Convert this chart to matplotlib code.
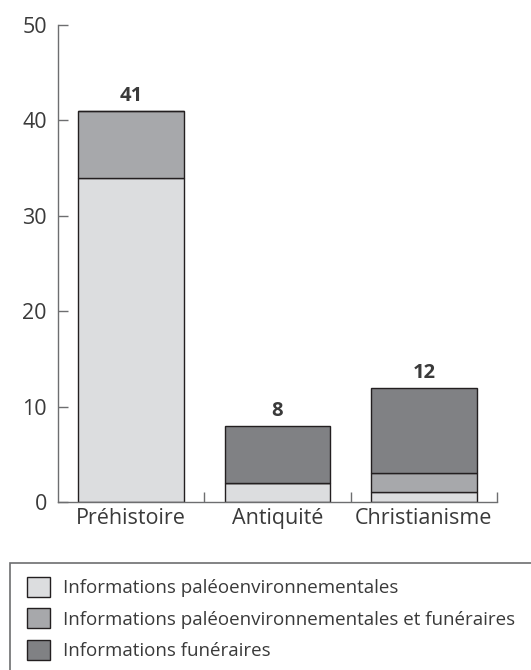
import matplotlib
matplotlib.use('Agg')
import matplotlib.pyplot as plt
from matplotlib.patches import Rectangle, Patch
import numpy as np

plt.rcParams['font.family'] = ['Open Sans', 'DejaVu Sans']

# data
categories = ['Préhistoire', 'Antiquité', 'Christianisme']
paleo = [34, 2, 1]
paleo_fun = [7, 0, 2]
funeraire = [0, 6, 9]
series_labels = ['Informations paléoenvironnementales',
                 'Informations paléoenvironnementales et funéraires',
                 'Informations funéraires']
colors = ['#dcdddf', '#a7a8ab', '#808184']
edge = '#231f20'
txt = '#3a3a3a'
spine_c = '#6d6e70'

fig = plt.figure(figsize=(5.31, 6.7), dpi=100)
ax = fig.add_axes([58 / 531, 168 / 670, (497 - 58) / 531, (645 - 168) / 670])

x = np.arange(len(categories))
w = 0.72
bottom = np.zeros(len(categories))
for vals, c, lab in zip([paleo, paleo_fun, funeraire], colors, series_labels):
    vals = np.array(vals)
    ax.bar(x, vals, w, bottom=bottom, color=c, edgecolor=edge, linewidth=1.0, label=lab)
    bottom += vals

for xi, tot in zip(x, bottom):
    ax.text(xi, tot + 0.5, f'{int(tot)}', ha='center', va='bottom',
            fontsize=14.5, fontweight='bold', color=txt)

ax.set_xlim(-0.5, 2.5)
ax.set_ylim(0, 50)
ax.set_yticks([0, 10, 20, 30, 40, 50])
ax.tick_params(axis='y', direction='in', length=7.5, width=1, color=spine_c,
               labelsize=15.5, labelcolor=txt, pad=8)

# category labels, boundary ticks
ax.set_xticks(x)
ax.set_xticklabels(categories)
ax.tick_params(axis='x', length=0, labelsize=15.5, labelcolor=txt, pad=4)
ax.set_xticks([0.5, 1.5, 2.5], minor=True)
ax.tick_params(axis='x', which='minor', direction='in', length=7.5, width=1, color=spine_c)

for s in ['top', 'right']:
    ax.spines[s].set_visible(False)
for s in ['left', 'bottom']:
    ax.spines[s].set_color(spine_c)
    ax.spines[s].set_linewidth(1)

# legend box (runs past the figure edge)
fig.patches.append(Rectangle((10 / 531, -0.05), 1.0, (670 - 563) / 670 + 0.05,
                             transform=fig.transFigure, fill=False,
                             edgecolor=spine_c, linewidth=1.2))
handles = [Patch(facecolor=c, edgecolor=edge, linewidth=1.0) for c in colors]
fig.legend(handles, series_labels, loc='upper left',
           bbox_to_anchor=(27 / 531, (670 - 577) / 670), frameon=False,
           fontsize=13.5, labelcolor=txt, handlelength=1.25, handleheight=1.25,
           handletextpad=0.65, labelspacing=0.6, borderaxespad=0, borderpad=0)

fig.savefig('out.png', dpi=100)
